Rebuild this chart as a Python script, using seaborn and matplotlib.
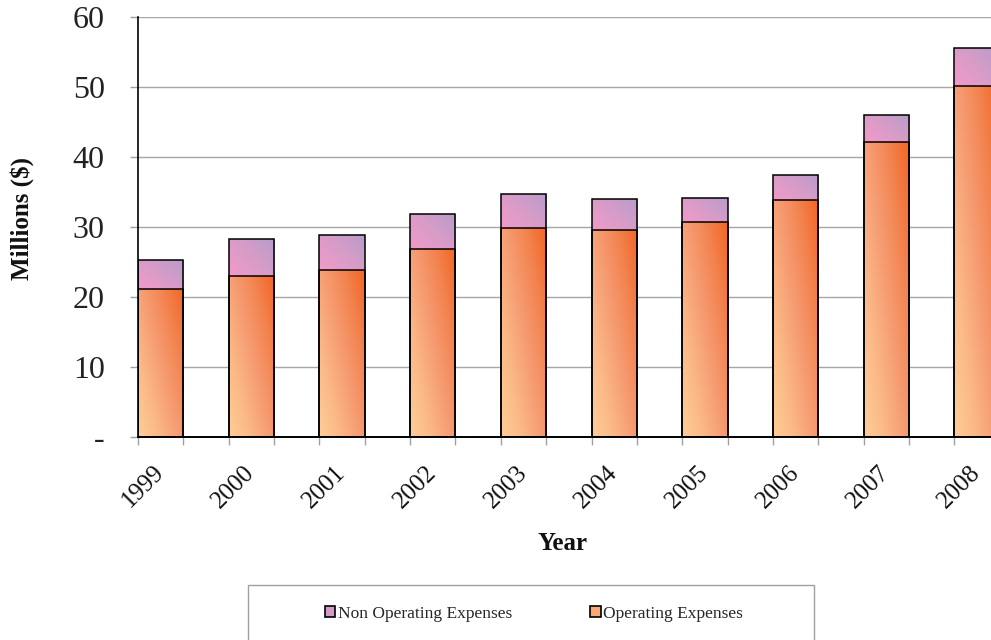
import numpy as np
import pandas as pd
import matplotlib
matplotlib.use("Agg")
import matplotlib.pyplot as plt
from matplotlib.colors import LinearSegmentedColormap
from matplotlib.patches import Rectangle, Patch
from matplotlib.ticker import FuncFormatter, FixedLocator
import seaborn as sns

# Expense data (millions of dollars)
years = ["1999", "2000", "2001", "2002", "2003", "2004", "2005", "2006", "2007", "2008"]
operating = [21.2, 23.0, 23.8, 26.8, 29.9, 29.6, 30.7, 33.9, 42.1, 50.1]
non_operating = [4.1, 5.3, 5.1, 5.0, 4.8, 4.4, 3.5, 3.5, 3.9, 5.5]
series_names = ["Non Operating Expenses", "Operating Expenses"]
y_ticks = [0, 10, 20, 30, 40, 50, 60]

total = [o + n for o, n in zip(operating, non_operating)]
df = pd.DataFrame({"Year": years, "Operating": operating, "Total": total})

sns.set_theme(style="white")
plt.rcParams["font.family"] = ["Liberation Serif", "DejaVu Serif"]

fig = plt.figure(figsize=(9.91, 6.40), dpi=100)
ax = fig.add_axes([138 / 991, 203 / 640, 0.8924, 420 / 640])

bar_w = 0.5
sns.barplot(data=df, x="Year", y="Total", ax=ax, width=bar_w, color="white",
            edgecolor="black", linewidth=1.1, errorbar=None)
n_tot = len(ax.patches)
sns.barplot(data=df, x="Year", y="Operating", ax=ax, width=bar_w, color="white",
            edgecolor="black", linewidth=1.1, errorbar=None)
tot_bars = ax.patches[:n_tot]
op_bars = ax.patches[n_tot:]

op_cmap = LinearSegmentedColormap.from_list(
    "op", ["#FECE98", "#FBB987", "#F69C72", "#F3834F", "#F26522"])
nonop_cmap = LinearSegmentedColormap.from_list("nonop", ["#F39AC8", "#D89CC8", "#B79CCB"])

gx, gy = np.meshgrid(np.linspace(0, 1, 64), np.linspace(0, 1, 256))
grad = 0.55 * gx + 0.45 * gy


def fill_gradient(patch, y0, y1, cmap):
    x0 = patch.get_x()
    x1 = x0 + patch.get_width()
    im = ax.imshow(grad, extent=[x0, x1, y0, y1], origin="lower", cmap=cmap,
                   aspect="auto", interpolation="bilinear", zorder=1.5)
    im.set_clip_path(patch)
    patch.set_facecolor("none")
    patch.set_zorder(2)


for p, o, t in zip(tot_bars, operating, total):
    fill_gradient(p, o, t, nonop_cmap)
for p, o in zip(op_bars, operating):
    fill_gradient(p, 0, o, op_cmap)

ax.set_xlim(-0.25, 9.5)
ax.set_ylim(0, 60)
ax.set_xlabel("")
ax.set_ylabel("")

# y axis
ax.yaxis.set_major_locator(FixedLocator(y_ticks))
ax.yaxis.set_major_formatter(FuncFormatter(lambda v, _: "-" if v == 0 else f"{v:.0f}"))
ax.grid(axis="y", color="#A6A6A6", linewidth=1.0)
ax.set_axisbelow(True)
ax.tick_params(axis="y", which="major", direction="out", length=6, width=1,
               color="#A0A0A0", labelsize=23, labelcolor="#222222", pad=18, left=True)

# x axis: labels at bar centres, small ticks at bar edges
ax.tick_params(axis="x", which="major", length=0, labelsize=18, labelcolor="#111111", pad=23)
edges = sorted([i - bar_w / 2 for i in range(len(years))] + [i + bar_w / 2 for i in range(len(years))])
ax.xaxis.set_minor_locator(FixedLocator(edges))
ax.tick_params(axis="x", which="minor", direction="out", length=6, width=1,
               color="#A0A0A0", bottom=True)
for lab in ax.get_xticklabels():
    lab.set_rotation(45)
    lab.set_ha("right")
    lab.set_va("center")
    lab.set_rotation_mode("anchor")

for s in ["top", "right"]:
    ax.spines[s].set_visible(False)
ax.spines["left"].set_color("black")
ax.spines["left"].set_linewidth(1.2)
ax.spines["bottom"].set_color("black")
ax.spines["bottom"].set_linewidth(1.4)

fig.text(22 / 991, 1 - 218 / 640, "Millions ($)", rotation=90, ha="center", va="center",
         fontsize=18, fontweight="bold", color="#111111")
fig.text(563 / 991, 1 - 544 / 640, "Year", ha="center", va="center",
         fontsize=18, fontweight="bold", color="#111111")

# legend box
fig.patches.append(Rectangle((248 / 991, -0.05), 566 / 991, 0.05 + 55 / 640,
                             transform=fig.transFigure, facecolor="white",
                             edgecolor="#A0A0A0", linewidth=1.0, zorder=0))
handles = [Patch(facecolor="#D59BC8", edgecolor="black", linewidth=1.2),
           Patch(facecolor="#F9A878", edgecolor="black", linewidth=1.2)]
fig.legend(handles, series_names, loc="center", bbox_to_anchor=(534 / 991, 1 - 614 / 640),
           ncol=2, frameon=False, fontsize=12.5, handlelength=0.6, handleheight=0.6,
           handletextpad=0.15, columnspacing=4.5)

fig.savefig("out.png", dpi=100)
